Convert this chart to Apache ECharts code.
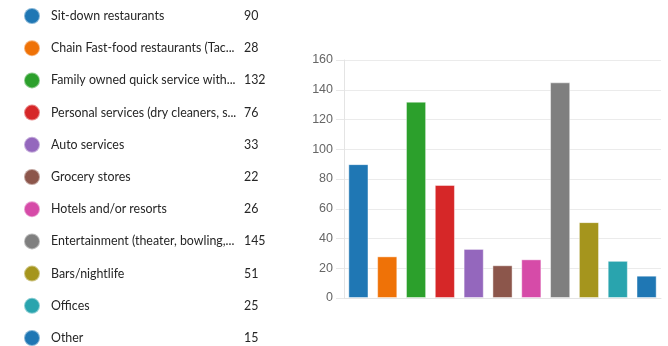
<!DOCTYPE html>
<html>
<head>
<meta charset="utf-8">
<script src="https://cdn.jsdelivr.net/npm/echarts@6/dist/echarts.min.js"></script>
<style>
  html, body { margin: 0; padding: 0; background: #fff; }
  #chart { width: 668px; height: 346px; }
</style>
</head>
<body>
<div id="chart"></div>
<script>
// Survey answers: one category per business type
const categories = [
  'Sit-down restaurants',
  'Chain Fast-food restaurants (Tac...',
  'Family owned quick service with...',
  'Personal services (dry cleaners, s...',
  'Auto services',
  'Grocery stores',
  'Hotels and/or resorts',
  'Entertainment (theater, bowling,...',
  'Bars/nightlife',
  'Offices',
  'Other'
];
const counts = [90, 28, 132, 76, 33, 22, 26, 145, 51, 25, 15];
const colors = ['#1f77b4', '#ef7207', '#2ca02c', '#d62728', '#9467bd', '#8c564b',
                '#d64ba8', '#7f7f7f', '#a5951d', '#29a4ae', '#1f77b4'];
const yTicks = { min: 0, max: 160, interval: 20 };

const legendFont = 'Lato, "Segoe UI", sans-serif';
const legendSize = 12.4;

// One series per category so each gets its own legend entry; stacking keeps
// every bar centred in its slot.
const series = categories.map((name, i) => ({
  name: name,
  type: 'bar',
  stack: 'all',
  barWidth: '70%',
  data: categories.map((_, j) => (j === i ? counts[i] : null)),
  itemStyle: { color: colors[i], borderColor: 'rgba(255,255,255,0.45)', borderWidth: 1 },
  emphasis: { disabled: true }
}));

const chart = echarts.init(document.getElementById('chart'), null, { renderer: 'canvas' });
chart.setOption({
  animation: false,
  color: colors,
  legend: {
    orient: 'vertical',
    left: 23,
    top: 7,
    padding: 0,
    height: 345,
    icon: 'circle',
    itemWidth: 16,
    itemHeight: 16,
    itemGap: 14.2,
    selectedMode: false,
    data: categories,
    formatter: function (name) {
      const i = categories.indexOf(name);
      return '{g|}{n|' + name + '}{v|' + counts[i] + '}';
    },
    textStyle: {
      fontFamily: legendFont,
      fontSize: legendSize,
      lineHeight: 16,
      color: '#262626',
      rich: {
        g: { width: 6, lineHeight: 16 },
        n: { width: 193, fontSize: legendSize, lineHeight: 16, color: '#262626', fontFamily: legendFont },
        v: { fontSize: legendSize, lineHeight: 16, color: '#262626', fontFamily: legendFont }
      }
    }
  },
  grid: { left: 344, right: 7, top: 60, bottom: 48, containLabel: false },
  xAxis: {
    type: 'category',
    data: categories,
    axisLabel: { show: false },
    axisTick: { show: false },
    axisLine: { show: true, lineStyle: { color: '#e4e4e4' } }
  },
  yAxis: {
    type: 'value',
    min: yTicks.min,
    max: yTicks.max,
    interval: yTicks.interval,
    axisLine: { show: true, lineStyle: { color: '#e4e4e4' } },
    axisTick: { show: true, length: 8, lineStyle: { color: '#e8e8e8' } },
    splitLine: { show: true, lineStyle: { color: '#ebebeb' } },
    axisLabel: {
      margin: 11,
      fontSize: 12.5,
      color: '#666666',
      fontFamily: 'Arial, "Liberation Sans", sans-serif'
    }
  },
  series: series
});
</script>
</body>
</html>
